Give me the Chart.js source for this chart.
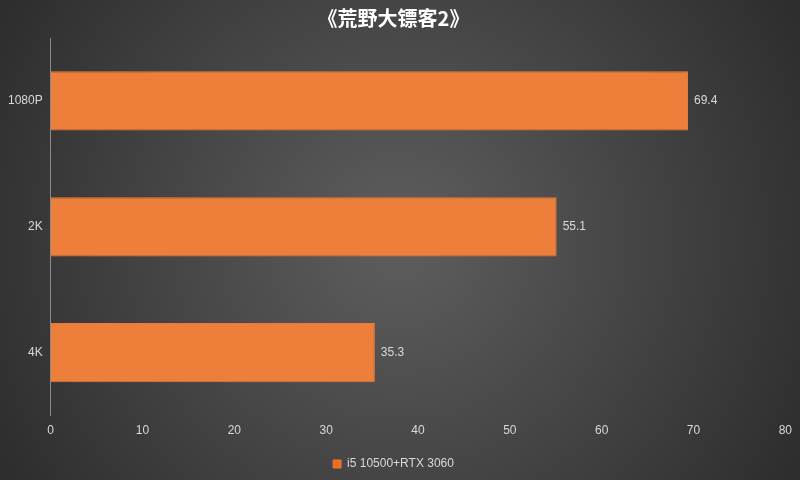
<!DOCTYPE html>
<html><head><meta charset="utf-8">
<script src="https://cdn.jsdelivr.net/npm/chart.js@4"></script>
<style>html,body{margin:0;padding:0;background:#333}#w{width:800px;height:480px}</style>
</head><body><div id="w"><canvas id="c" width="800" height="480"></canvas></div>
<script>
const categories = ["1080P", "2K", "4K"];
const values = [69.4, 55.1, 35.3];
const seriesName = "i5 10500+RTX 3060";
const titleText = "《荒野大镖客2》";

const bg = {id:'bg', beforeDraw(ch){const c=ch.ctx,w=ch.width,h=ch.height;
 const g=c.createRadialGradient(w/2,h/2,20,w/2,h/2,w*0.6);
 g.addColorStop(0,'#5c5c5c');g.addColorStop(1,'#2b2b2b');
 c.save();c.fillStyle=g;c.fillRect(0,0,w,h);c.restore();}};
const labels = {id:'lbl', afterDatasetsDraw(ch){const c=ch.ctx;const m=ch.getDatasetMeta(0);
 c.save();c.font='12px "Liberation Sans", Arial';c.fillStyle='#d9d9d9';c.textBaseline='middle';
 m.data.forEach((b,i)=>c.fillText(values[i].toFixed(1),b.x+6,b.y));c.restore();}};
new Chart(document.getElementById('c'),{type:'bar',
 data:{labels:categories,datasets:[{label:seriesName,data:values,
  backgroundColor:(ctx)=>{const el=ctx.element;
   if(!el||!isFinite(el.y)||!isFinite(el.height)||!el.height) return '#ee7f3a';
   const y=el.y, hgt=el.height;
   const g=ctx.chart.ctx.createLinearGradient(0,y-hgt/2,0,y+hgt/2);
   g.addColorStop(0,'#f29357');g.addColorStop(1,'#ea6e1c');return g;},
  borderColor:'#ea7a3a',borderWidth:1,barPercentage:0.47,categoryPercentage:1}]},
 options:{indexAxis:'y',responsive:false,animation:false,
  layout:{padding:{left:0,right:13,top:0,bottom:0}},
  plugins:{title:{display:true,text:titleText,color:'#ffffff',font:{size:20,weight:'bold',family:'"Noto Sans CJK SC"'},padding:{top:6,bottom:8}},
   legend:{position:'bottom',labels:{color:'#d9d9d9',boxWidth:8,boxHeight:8,font:{size:12},padding:12}},tooltip:{enabled:false}},
  scales:{x:{min:0,max:80,ticks:{stepSize:10,color:'#d9d9d9',font:{size:12},padding:8},grid:{display:false,drawTicks:false},border:{display:false}},
   y:{ticks:{color:'#d9d9d9',font:{size:12},padding:8},grid:{display:false,drawTicks:false},border:{color:'#8a8a8a'}}}},
 plugins:[bg,labels]});
</script></body></html>
